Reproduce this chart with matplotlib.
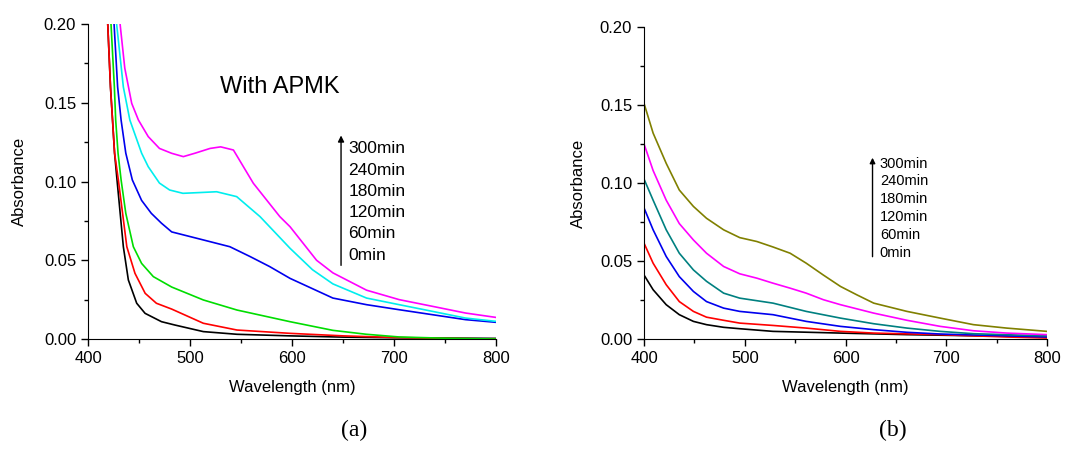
import matplotlib.pyplot as plt
from matplotlib.ticker import MultipleLocator

plt.rcParams['font.family'] = ['Liberation Sans', 'DejaVu Sans']

# (a) spectra with APMK, wavelength (nm) / absorbance
a_black_w = [415, 419.3, 422, 424, 426, 428.4, 434.6, 439.5, 447.7, 455.9, 472, 485, 513, 546, 598, 650, 700, 800]
a_black_y = [0.26, 0.20, 0.16, 0.139, 0.118, 0.101, 0.0586, 0.0375, 0.0227, 0.0163, 0.011, 0.0089, 0.0047, 0.003, 0.002, 0.0012, 0.0008, 0.0004]
a_red_w = [415, 419.3, 422, 424, 426, 429.7, 438, 446, 456, 467, 482, 513, 546, 598, 650, 700, 750, 800]
a_red_y = [0.26, 0.20, 0.16, 0.139, 0.118, 0.101, 0.0586, 0.0417, 0.029, 0.0227, 0.019, 0.010, 0.0057, 0.0036, 0.002, 0.001, 0.0004, 0.0]
a_green_w = [418, 422.5, 425.8, 427.1, 429.4, 432.4, 437, 444.4, 452.5, 464, 482, 513, 546, 598, 640, 673, 705, 750, 800]
a_green_y = [0.26, 0.20, 0.160, 0.139, 0.118, 0.101, 0.0798, 0.0586, 0.048, 0.0396, 0.033, 0.0248, 0.0184, 0.011, 0.0055, 0.003, 0.0013, 0.0005, 0.0]
a_blue_w = [421, 425.5, 429, 432.4, 437, 443.4, 452.5, 462, 472, 482, 513, 539, 559, 578, 598, 640, 673, 705, 738, 770, 800]
a_blue_y = [0.26, 0.20, 0.160, 0.139, 0.118, 0.101, 0.088, 0.0798, 0.0735, 0.068, 0.0629, 0.0586, 0.0523, 0.046, 0.0385, 0.026, 0.0218, 0.0186, 0.0154, 0.0123, 0.0106]
a_cyan_w = [424, 428, 434.6, 441, 452.5, 459, 470, 480, 493, 510, 526, 545.7, 568.6, 598, 620, 640, 673, 705, 738, 770, 800]
a_cyan_y = [0.26, 0.20, 0.160, 0.139, 0.118, 0.1094, 0.099, 0.0946, 0.0925, 0.093, 0.0935, 0.0904, 0.0777, 0.0576, 0.044, 0.035, 0.026, 0.0218, 0.0175, 0.0133, 0.0112]
a_magenta_w = [427, 431.4, 436, 442.8, 449.4, 459, 470, 482, 493.4, 505, 519.6, 530, 542.5, 562, 588, 598, 624, 640, 673, 705, 738, 770, 800]
a_magenta_y = [0.26, 0.20, 0.172, 0.1496, 0.139, 0.1285, 0.121, 0.1179, 0.1158, 0.118, 0.121, 0.122, 0.12, 0.0989, 0.0777, 0.0713, 0.050, 0.042, 0.031, 0.025, 0.0207, 0.0165, 0.0137]

# (b) spectra without APMK
b_black_w = [400, 409, 422, 435, 449, 462, 479, 495, 528, 595, 661, 800]
b_black_y = [0.041, 0.0316, 0.022, 0.0156, 0.0113, 0.0092, 0.0075, 0.0066, 0.0049, 0.0038, 0.0028, 0.0013]
b_red_w = [400, 409, 422, 435, 449, 462, 479, 495, 528, 561, 595, 628, 694, 760, 800]
b_red_y = [0.0614, 0.0486, 0.0348, 0.024, 0.0177, 0.014, 0.012, 0.0102, 0.0087, 0.007, 0.0049, 0.0038, 0.0028, 0.0013, 0.0006]
b_blue_w = [400, 409, 422, 435, 449, 462, 479, 495, 528, 561, 595, 628, 661, 694, 800]
b_blue_y = [0.084, 0.070, 0.0529, 0.040, 0.0305, 0.024, 0.0198, 0.0177, 0.0156, 0.0113, 0.0081, 0.006, 0.0043, 0.0032, 0.0013]
b_teal_w = [400, 409, 422, 435, 449, 462, 479, 495, 528, 561, 595, 628, 661, 694, 727, 800]
b_teal_y = [0.1025, 0.089, 0.070, 0.055, 0.0443, 0.037, 0.0294, 0.0262, 0.023, 0.0177, 0.0134, 0.0098, 0.007, 0.0049, 0.0034, 0.002]
b_magenta_w = [400, 409, 422, 435, 449, 462, 479, 495, 512, 528, 545, 561, 578, 595, 628, 661, 694, 727, 760, 800]
b_magenta_y = [0.125, 0.108, 0.089, 0.074, 0.0635, 0.055, 0.0465, 0.0418, 0.039, 0.0358, 0.0326, 0.0294, 0.0252, 0.022, 0.0166, 0.012, 0.0081, 0.0053, 0.0038, 0.0028]
b_olive_w = [400, 409, 422, 435, 449, 462, 479, 495, 512, 528, 545, 561, 578, 595, 611, 628, 661, 694, 727, 760, 800]
b_olive_y = [0.151, 0.132, 0.1126, 0.0955, 0.085, 0.0774, 0.070, 0.065, 0.0625, 0.059, 0.055, 0.0486, 0.041, 0.0337, 0.0284, 0.023, 0.0177, 0.0134, 0.0092, 0.007, 0.0049]

times = ["300min", "240min", "180min", "120min", "60min", "0min"]

fig = plt.figure(figsize=(10.87, 4.66), dpi=100)
ax1 = fig.add_axes([0.081, 0.2725, 0.3754, 0.676])
ax2 = fig.add_axes([0.5925, 0.2725, 0.3707, 0.6695])

lw = 1.2
ax1.plot(a_black_w, a_black_y, color='black', lw=lw)
ax1.plot(a_red_w, a_red_y, color='red', lw=lw)
ax1.plot(a_green_w, a_green_y, color='#00dd00', lw=lw)
ax1.plot(a_blue_w, a_blue_y, color='#0000ee', lw=lw)
ax1.plot(a_cyan_w, a_cyan_y, color='#00eeee', lw=lw)
ax1.plot(a_magenta_w, a_magenta_y, color='#ff00ff', lw=lw)

ax2.plot(b_black_w, b_black_y, color='black', lw=lw)
ax2.plot(b_red_w, b_red_y, color='red', lw=lw)
ax2.plot(b_blue_w, b_blue_y, color='#0000ee', lw=lw)
ax2.plot(b_teal_w, b_teal_y, color='#008080', lw=lw)
ax2.plot(b_magenta_w, b_magenta_y, color='#ff00ff', lw=lw)
ax2.plot(b_olive_w, b_olive_y, color='#808000', lw=lw)

for ax, ypad in ((ax1, 12.5), (ax2, 10)):
    ax.set_xlim(400, 800)
    ax.set_ylim(0, 0.20)
    ax.xaxis.set_major_locator(MultipleLocator(100))
    ax.xaxis.set_minor_locator(MultipleLocator(50))
    ax.yaxis.set_major_locator(MultipleLocator(0.05))
    ax.yaxis.set_minor_locator(MultipleLocator(0.025))
    ax.yaxis.set_major_formatter(lambda v, p: f"{v:.2f}")
    ax.spines['top'].set_visible(False)
    ax.spines['right'].set_visible(False)
    ax.tick_params(which='major', direction='out', length=5, width=1, labelsize=12)
    ax.tick_params(which='minor', direction='out', length=3, width=1)
    ax.set_xlabel("Wavelength (nm)", fontsize=12, labelpad=10)
    ax.set_ylabel("Absorbance", fontsize=12, labelpad=ypad)

ax1.text(0.47, 0.80, "With APMK", transform=ax1.transAxes, fontsize=17, ha='center', va='center')

# time arrows with the time list beside them
ax1.annotate("", xy=(0.620, 0.655), xytext=(0.620, 0.225), xycoords='axes fraction',
             arrowprops=dict(arrowstyle='-|>', color='black', lw=1, mutation_scale=9))
ax1.text(0.638, 0.627, "\n".join(times), transform=ax1.transAxes, fontsize=12.5,
         va='top', ha='left', linespacing=1.52)

ax2.annotate("", xy=(0.567, 0.59), xytext=(0.567, 0.255), xycoords='axes fraction',
             arrowprops=dict(arrowstyle='-|>', color='black', lw=1, mutation_scale=8))
ax2.text(0.585, 0.585, "\n".join(times), transform=ax2.transAxes, fontsize=10.5,
         va='top', ha='left', linespacing=1.35)

fig.text(354 / 1087, 1 - 430 / 466, "(a)", fontsize=17, family=['Liberation Serif'], ha='center', va='center')
fig.text(893 / 1087, 1 - 430 / 466, "(b)", fontsize=17, family=['Liberation Serif'], ha='center', va='center')

fig.savefig("out.png", dpi=100)
